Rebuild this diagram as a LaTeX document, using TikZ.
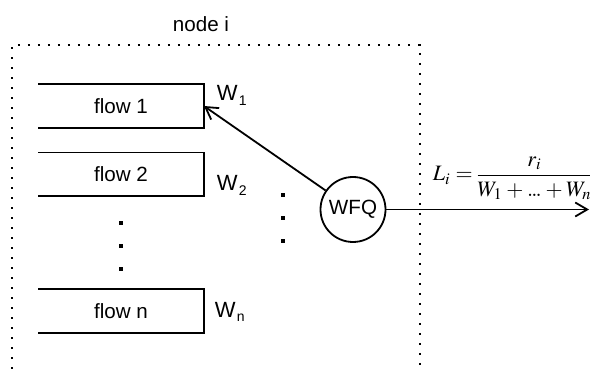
\documentclass[tikz,border=0pt]{standalone}
\usepackage{mathptmx}
\usepackage[no-math]{fontspec}
\setmainfont{Liberation Sans}
\usetikzlibrary{arrows.meta}

% weight label with a small lowered index
\newcommand\wt[1]{W\kern.6pt\raisebox{-2.4pt}{\fontsize{7}{8}\selectfont #1}}
% close-set dots for the sum
\newcommand\sumdots{{.}\mkern-1.5mu{.}\mkern-1.5mu{.}}

\begin{document}
\begin{tikzpicture}[x=.5pt,y=-.5pt,line width=.9pt,
  every node/.style={font=\fontsize{10.3}{12}\selectfont},
  queue/.style={minimum width=82pt,minimum height=21pt,inner sep=0pt},
  weight/.style={anchor=base west,inner sep=0pt,font=\fontsize{11}{13}\selectfont},
  frame/.style={line width=1.2pt,dash pattern=on 1.2pt off 3.8pt},
  tip/.style={-{Straight Barb[length=6pt,width=7pt]}}]
\useasboundingbox (0,0) rectangle (590,369);

% the node, open at the bottom
\draw[frame] (12,369) -- (12,45) -- (420,45) -- (420,369);
\node (title) at (201,24) {node i};

% queues
\node[queue] (f1) at (121,106) {flow 1};
\node[queue] (f2) at (121,174.5) {flow 2};
\node[queue] (fn) at (121,311) {flow n};
\foreach \q in {f1,f2,fn}
  \draw (\q.north west) -- (\q.north east) -- (\q.south east) -- (\q.south west);

\node[weight] (w1) at (216,100.7) {\wt{1}};
\node[weight] (w2) at (216,191) {\wt{2}};
\node[weight] (wn) at (214,317) {\wt{n}};

\foreach \y in {223,246,269} \fill (121,\y) +(-2,-2) rectangle +(2,2);
\foreach \y in {195,218,241} \fill (283,\y) +(-2,-2) rectangle +(2,2);

% scheduler and output link
\node[draw,circle,minimum size=32.5pt,inner sep=0pt] (wfq) at (353,209.5) {WFQ};
\coordinate (out) at (589,209.5);
\draw[tip] (wfq) -- (f1.east);
\draw[tip] (wfq) -- (out);
\node[inner sep=0pt,anchor=base west,font=\fontsize{11}{13}\selectfont] (rate) at (432,181)
  {\medmuskip=3mu\thickmuskip=4mu\nulldelimiterspace=0pt
   $\displaystyle L_i=\frac{r_i}{W_1+\sumdots+W_n}$};
\end{tikzpicture}
\end{document}
